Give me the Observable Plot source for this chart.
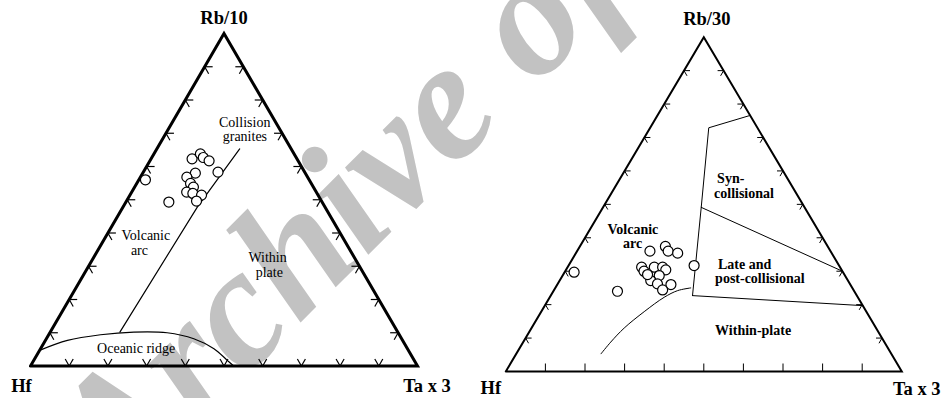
<!DOCTYPE html>
<html>
<head>
<meta charset="utf-8">
<script src="https://cdn.jsdelivr.net/npm/d3@7"></script>
<script src="https://cdn.jsdelivr.net/npm/@observablehq/plot@0.6"></script>
<style>
  html, body { margin: 0; padding: 0; background: #fff; }
  #wrap { position: relative; width: 947px; height: 398px; overflow: hidden; }
  #mark { position: absolute; left: 0; top: 0; z-index: 0; }
  #panels { position: absolute; left: 0; top: 0; display: flex; z-index: 1; }
</style>
</head>
<body>
<div id="wrap">
  <svg id="mark" width="947" height="398"></svg>
  <div id="panels"></div>
</div>
<script>
// Ternary compositions, in percent: [Hf, Rb, Ta x 3]

// --- Rb/10 – Hf – Ta x 3 diagram ---
const cornersRb10 = ["Hf", "Rb/10", "Ta x 3"];
const samplesRb10 = [
  [42.3, 56.0, 1.7], [39.6, 49.3, 11.1], [27.1, 62.3, 10.6], [24.2, 63.8, 12.0],
  [24.0, 62.7, 13.3], [23.0, 61.7, 15.3], [22.4, 58.3, 19.3], [28.4, 58.0, 13.6],
  [31.2, 56.8, 12.0], [31.2, 54.9, 13.9], [31.0, 53.8, 15.2], [33.5, 52.3, 14.2],
  [32.1, 51.9, 16.0], [30.1, 51.4, 18.5], [32.3, 49.6, 18.1]
];
const arcWithinPlateRb10 = [[71.8, 10.2, 18.0], [33.0, 47.8, 19.2], [13.3, 65.3, 21.4]];
const oceanicRidgeRb10 = [
  [95.3, 4.7, 0.0], [86.6, 7.7, 5.7], [77.2, 9.4, 13.4], [68.2, 10.2, 21.6],
  [59.7, 10.0, 30.3], [53.7, 8.2, 38.1], [50.0, 5.2, 44.8], [48.3, 1.7, 50.0], [47.5, 0.0, 52.5]
];
const fieldNamesRb10 = ["Collision", "granites", "Volcanic", "arc", "Within", "plate", "Oceanic ridge"];
const fieldAnchorsRb10 = [
  [8.0, 73.3, 18.7], [10.1, 69.0, 20.9], [50.6, 39.2, 10.2], [54.5, 34.7, 10.8],
  [22.4, 32.7, 44.9], [24.2, 28.2, 47.6], [70.0, 5.4, 24.6]
];

// --- Rb/30 – Hf – Ta x 3 diagram ---
const cornersRb30 = ["Hf", "Rb/30", "Ta x 3"];
const samplesRb30 = [
  [67.9, 29.7, 2.4], [59.8, 24.0, 16.2], [45.6, 36.0, 18.4], [41.0, 37.4, 21.6],
  [41.0, 36.0, 23.0], [38.9, 35.4, 25.7], [36.6, 31.7, 31.7], [50.1, 31.2, 18.7],
  [50.1, 30.0, 19.9], [46.9, 31.2, 21.9], [44.8, 31.2, 24.0], [44.4, 30.4, 25.2],
  [46.9, 28.7, 24.4], [49.8, 27.2, 23.0], [48.6, 26.2, 25.2], [45.3, 26.0, 28.7],
  [48.2, 24.4, 27.4], [49.7, 29.0, 21.3]
];
const synCollisionalRb30 = [[0.0, 76.6, 23.4], [12.3, 72.9, 14.8], [26.1, 49.1, 24.8], [41.5, 22.7, 35.8]];
const lateSplitRb30 = [[26.1, 49.1, 24.8], [0.0, 30.0, 70.0]];
const withinPlateTopRb30 = [[41.5, 22.7, 35.8], [0.0, 19.7, 80.3]];
const arcCurveRb30 = [
  [40.8, 25.0, 34.2], [44.5, 24.2, 31.3], [48.9, 22.2, 28.9], [56.1, 17.9, 26.0],
  [63.6, 13.0, 23.4], [69.1, 8.8, 22.1], [73.3, 5.3, 21.4]
];
const fieldNamesRb30 = ["Syn-", "collisional", "Volcanic", "arc", "Late and", "post-collisional", "Within-plate"];
const fieldAnchorsRb30 = [
  [14.4, 57.6, 28.0], [13.2, 53.3, 33.5], [46.7, 42.4, 10.9], [48.9, 38.2, 12.9],
  [23.7, 32.0, 44.3], [22.0, 27.7, 50.3], [31.4, 12.3, 56.3]
];

// Tick positions along every side, in percent
const sideTicks = [10, 20, 30, 40, 50, 60, 70, 80, 90];

const SERIF = "'Liberation Serif', 'Times New Roman', Tinos, 'DejaVu Serif', serif";

// Ternary -> unit cartesian (x along the Hf–Ta base, y toward the Rb apex)
function toXY([hf, rb, ta]) {
  const s = hf + rb + ta;
  return { x: (ta + rb / 2) / s, y: rb / s };
}
const project = (rows) => rows.map(toXY);

function ticksFor(style, plotW, plotH) {
  // Each tick is a set of short arms (pixel length, angle in degrees, y up)
  const sides = [
    { at: (t) => ({ x: t, y: 0 }), arms: style.base },
    { at: (t) => ({ x: t / 2, y: t }), arms: style.left },
    { at: (t) => ({ x: 1 - t / 2, y: t }), arms: style.right }
  ];
  const segs = [];
  for (const side of sides) {
    for (const v of sideTicks) {
      const p = side.at(v / 100);
      for (const [len, deg] of side.arms) {
        const a = (deg * Math.PI) / 180;
        segs.push({ x1: p.x, y1: p.y, x2: p.x + (len * Math.cos(a)) / plotW, y2: p.y + (len * Math.sin(a)) / plotH });
      }
    }
  }
  return segs;
}

function panel(cfg) {
  const { width, height, margin, corners, cornerOffsets, samples, lines, names, anchors,
          tickStyle, frameWidth, lineWidth, fieldWeight } = cfg;
  const plotW = width - margin.left - margin.right;
  const plotH = height - margin.top - margin.bottom;
  const frame = project([[100, 0, 0], [0, 100, 0], [0, 0, 100], [100, 0, 0]]);
  const cornerPts = project([[100, 0, 0], [0, 100, 0], [0, 0, 100]]).map((p, i) => ({ ...p, name: corners[i] }));
  const labelPts = project(anchors).map((p, i) => ({ ...p, name: names[i] }));
  const marks = [];
  for (const ln of lines) {
    marks.push(Plot.line(project(ln.rows), { x: "x", y: "y", stroke: "#000", strokeWidth: lineWidth, curve: ln.curve || "linear" }));
  }
  marks.push(Plot.link(ticksFor(tickStyle, plotW, plotH), {
    x1: "x1", y1: "y1", x2: "x2", y2: "y2", stroke: "#000", strokeWidth: tickStyle.width
  }));
  marks.push(Plot.line(frame, { x: "x", y: "y", stroke: "#000", strokeWidth: frameWidth, strokeLinejoin: "miter", strokeMiterlimit: 4 }));
  marks.push(Plot.dot(project(samples), { x: "x", y: "y", r: 5, fill: "#fff", stroke: "#000", strokeWidth: 1.2 }));
  marks.push(Plot.text(labelPts, { x: "x", y: "y", text: "name", fontFamily: SERIF, fontSize: 14, fontWeight: fieldWeight, fill: "#000" }));
  cornerPts.forEach((c, i) => {
    marks.push(Plot.text([c], {
      x: "x", y: "y", text: "name", dx: cornerOffsets[i][0], dy: cornerOffsets[i][1],
      fontFamily: SERIF, fontSize: 18.5, fontWeight: "bold", fill: "#000"
    }));
  });
  return Plot.plot({
    width, height,
    marginLeft: margin.left, marginRight: margin.right, marginTop: margin.top, marginBottom: margin.bottom,
    x: { domain: [0, 1], axis: null },
    y: { domain: [0, 1], axis: null },
    style: { background: "transparent", overflow: "visible", fontFamily: SERIF },
    marks
  });
}

const chevron = (len, normal) => [[len, normal - 30], [len, normal + 30]];

const left = panel({
  width: 474, height: 398,
  margin: { left: 30, right: 57, top: 33, bottom: 32.5 },
  corners: cornersRb10,
  cornerOffsets: [[-9, 20.5], [0, -15], [9.5, 20.5]],
  samples: samplesRb10,
  lines: [
    { rows: arcWithinPlateRb10 },
    { rows: oceanicRidgeRb10, curve: "catmull-rom" }
  ],
  names: fieldNamesRb10, anchors: fieldAnchorsRb10,
  tickStyle: { base: chevron(8, 90), left: chevron(8, -30), right: chevron(8, 210), width: 1.2 },
  frameWidth: 3, lineWidth: 1.2, fieldWeight: "normal"
});

const right = panel({
  width: 473, height: 398,
  margin: { left: 31.3, right: 45.7, top: 36.7, bottom: 27 },
  corners: cornersRb30,
  cornerOffsets: [[-15, 16.5], [3, -18.4], [15, 17.5]],
  samples: samplesRb30,
  lines: [
    { rows: synCollisionalRb30 },
    { rows: lateSplitRb30 },
    { rows: withinPlateTopRb30 },
    { rows: arcCurveRb30, curve: "catmull-rom" }
  ],
  names: fieldNamesRb30, anchors: fieldAnchorsRb30,
  tickStyle: { base: [[8, 90]], left: chevron(6, -30), right: chevron(6, 210), width: 1 },
  frameWidth: 2, lineWidth: 1, fieldWeight: "bold"
});

document.getElementById("panels").append(left, right);

// Archive watermark drawn behind both diagrams
d3.select("#mark").append("text")
  .attr("transform", "translate(118,505) rotate(-45)")
  .style("font-family", SERIF)
  .style("font-style", "italic")
  .style("font-weight", "bold")
  .style("font-size", "170px")
  .attr("fill", "#c2c2c2")
  .text("Archive of SID");
</script>
</body>
</html>
